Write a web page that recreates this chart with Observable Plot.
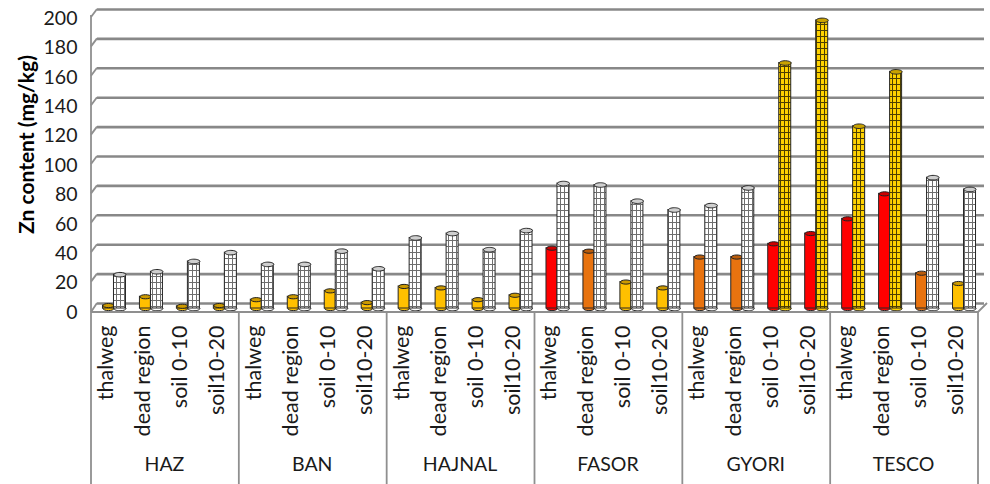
<!DOCTYPE html>
<html>
<head>
<meta charset="utf-8">
<script src="https://cdn.jsdelivr.net/npm/d3@7"></script>
<script src="https://cdn.jsdelivr.net/npm/@observablehq/plot@0.6"></script>
<style>
  body { margin: 0; background: #fff; }
</style>
</head>
<body>
<div id="chart"></div>
<script>
// Sampling sites and sample types
const sites = ["HAZ", "BAN", "HAJNAL", "FASOR", "GYORI", "TESCO"];
const samples = ["thalweg", "dead region", "soil 0-10", "soil10-20"];

// Zn content (mg/kg), one row per site, columns in sample order
const solidValues = [
  [2, 8, 1.5, 2],
  [6, 8, 12, 4],
  [15, 14, 6, 9],
  [41, 39, 18, 14],
  [35, 35, 44, 51],
  [61, 78, 24, 17]
];
const gridValues = [
  [23, 25, 32, 38],
  [30, 30, 39, 27],
  [48, 51, 40, 53],
  [85, 84, 73, 67],
  [70, 82, 167, 196],
  [124, 161, 89, 81]
];

const yTicks = [0, 20, 40, 60, 80, 100, 120, 140, 160, 180, 200];
const yLabel = "Zn content (mg/kg)";

// Class limits used for the fill of the cylinders
const solidLimits = [20, 40];
const gridLimit = 100;

const rows = sites.flatMap((site, i) =>
  samples.map((sample, j) => ({
    site,
    sample,
    key: site + "|" + sample,
    solid: solidValues[i][j],
    grid: gridValues[i][j]
  }))
);
const keys = rows.map(d => d.key);

// Elliptical symbol for the cylinder caps
const ellipse = {
  draw(context, size) {
    const rx = Math.sqrt(size / Math.PI);
    const ry = rx * 0.38;
    const k = 0.5523;
    context.moveTo(rx, 0);
    context.bezierCurveTo(rx, ry * k, rx * k, ry, 0, ry);
    context.bezierCurveTo(-rx * k, ry, -rx, ry * k, -rx, 0);
    context.bezierCurveTo(-rx, -ry * k, -rx * k, -ry, 0, -ry);
    context.bezierCurveTo(rx * k, -ry, rx, -ry * k, rx, 0);
    context.closePath();
  }
};

const font = "Lato, 'Open Sans', sans-serif";
const outline = "#262626";
const bw = (990 - 95 - 8) / keys.length;

const plot = Plot.plot({
  width: 990,
  height: 484,
  marginLeft: 95,
  marginRight: 8,
  marginTop: 14,
  marginBottom: 176,
  style: { fontFamily: font, background: "#fff", overflow: "visible" },
  x: { domain: keys, padding: 0, round: false, axis: null },
  y: { domain: [0, 200], axis: null },
  color: { type: "threshold", domain: solidLimits, range: ["#FFC000", "#E8730F", "#FF0000"] },
  marks: [
    // back-wall gridlines
    Plot.ruleY(yTicks, { stroke: "#888888", strokeWidth: 2.6, dy: -5, dx: 2 }),

    // cylinder bases
    Plot.dot(rows, { x: "key", y: () => 0, r: 5.5, symbol: ellipse, fill: "solid", stroke: outline, strokeWidth: 1, dx: -5.5 }),
    Plot.dot(rows, { x: "key", y: () => 0, r: 6, symbol: ellipse, fill: d => d.grid > gridLimit ? "#FFD200" : "#fff", stroke: outline, strokeWidth: 1, dx: 6 }),

    // solid cylinders
    Plot.barY(rows, { x: "key", y: "solid", fill: "solid", stroke: outline, strokeWidth: 1, insetLeft: bw / 2 - 11, insetRight: bw / 2 }),
    Plot.dot(rows, { x: "key", y: "solid", r: 5.5, symbol: ellipse, fill: "solid", stroke: outline, strokeWidth: 1, dx: -5.5 }),
    Plot.dot(rows, { x: "key", y: "solid", r: 5.5, symbol: ellipse, fill: "#000", fillOpacity: 0.2, dx: -5.5 }),

    // gridded cylinders
    Plot.barY(rows, { filter: d => d.grid <= gridLimit, x: "key", y: "grid", fill: "url(#gridWhite)", stroke: outline, strokeWidth: 1, insetLeft: bw / 2, insetRight: bw / 2 - 12 }),
    Plot.barY(rows, { filter: d => d.grid > gridLimit, x: "key", y: "grid", fill: "url(#gridGold)", stroke: outline, strokeWidth: 1, insetLeft: bw / 2, insetRight: bw / 2 - 12 }),
    Plot.dot(rows, { x: "key", y: "grid", r: 6, symbol: ellipse, fill: d => d.grid > gridLimit ? "#C9A200" : "#cfcfcf", stroke: outline, strokeWidth: 1, dx: 6 }),

    // y tick labels
    Plot.text(yTicks, { y: d => d, text: d => String(d), frameAnchor: "left", textAnchor: "end", dx: -18, dy: 4, fontSize: 19.5, fill: "#1a1a1a" }),

    // y axis title
    Plot.text([yLabel], { frameAnchor: "left", text: d => d, rotate: -90, textAnchor: "middle", dx: -68, dy: -17, fontSize: 21, fontWeight: "bold", fill: "#000" }),

    // sample labels
    Plot.text(rows, { x: "key", text: "sample", frameAnchor: "bottom", rotate: -90, textAnchor: "end", dx: -1, dy: 17, fontSize: 21.5, fill: "#1a1a1a" }),

    // site labels
    Plot.text(sites, { x: d => d + "|dead region", text: d => d, frameAnchor: "bottom", dx: bw / 2 - 5, dy: 162, fontSize: 19.5, fill: "#1a1a1a" })
  ]
});

// Patterns for the gridded cylinders, the side wall, floor edge and category table
const svg = d3.select(plot);
const defs = svg.insert("defs", ":first-child");
function gridPattern(id, bg, line) {
  const p = defs.append("pattern")
    .attr("id", id)
    .attr("patternUnits", "userSpaceOnUse")
    .attr("width", 4)
    .attr("height", 6);
  p.append("rect").attr("width", 4).attr("height", 6).attr("fill", bg);
  p.append("path").attr("d", "M0,0.5H4M0.5,0V6").attr("stroke", line).attr("stroke-width", 1);
}
gridPattern("gridWhite", "#ffffff", "#6e6e6e");
gridPattern("gridGold", "#FFD200", "#4d3f00");

const x = plot.scale("x");
const y = plot.scale("y");
const wall = svg.append("g").attr("stroke", "#8f8f8f").attr("stroke-width", 1.8).attr("fill", "none");

const left = x.apply(keys[0]) - 4;
const right = x.apply(keys[keys.length - 1]) + x.bandwidth - 4;
const floorY = y.apply(0) + 4;

// side wall: front edge and gridline returns
wall.append("line").attr("x1", left).attr("x2", left).attr("y1", y.apply(200) + 1).attr("y2", 484);
for (const v of yTicks) {
  wall.append("line")
    .attr("x1", left).attr("y1", y.apply(v) + (v === 0 ? 4 : 3))
    .attr("x2", left + 6).attr("y2", y.apply(v) - 5);
}
// floor front edge
wall.append("polyline")
  .attr("points", `${left},${floorY} ${right},${floorY} ${right + 9},${y.apply(0) - 5}`);

// category table separators
for (const site of sites) {
  const xs = x.apply(site + "|" + samples[0]) - 4;
  if (xs > left + 1) wall.append("line").attr("x1", xs).attr("x2", xs).attr("y1", floorY).attr("y2", 484);
}
wall.append("line").attr("x1", right).attr("x2", right).attr("y1", floorY).attr("y2", 484);

document.getElementById("chart").append(plot);
</script>
</body>
</html>
